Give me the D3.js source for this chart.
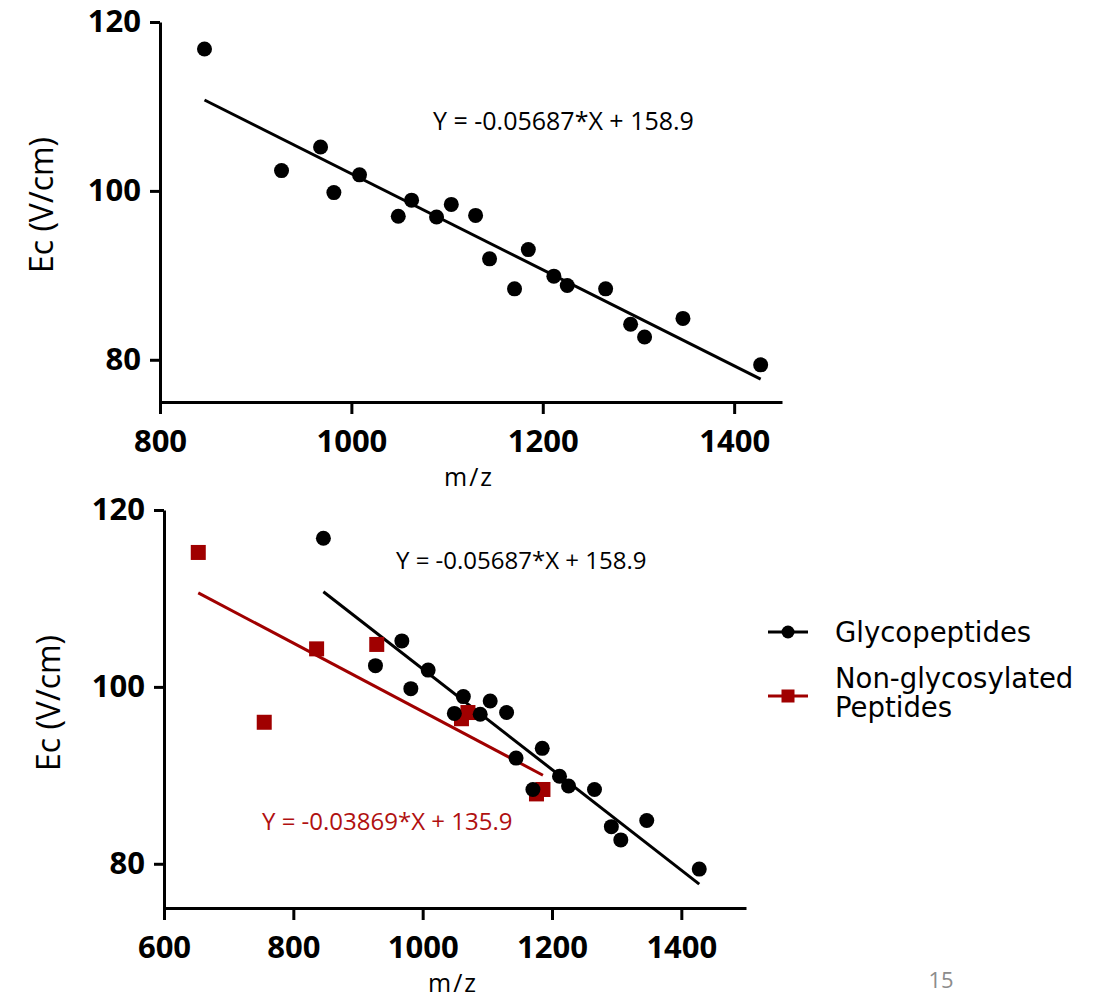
<!DOCTYPE html>
<html>
<head>
<meta charset="utf-8">
<script src="https://cdn.jsdelivr.net/npm/d3@7"></script>
<style>
  body { margin: 0; background: #fff; }
  .axis path, .axis line { stroke: #000; stroke-width: 3px; }
  .axis text { font-family: "Open Sans", sans-serif; font-weight: 700; font-size: 31px; fill: #000; }
  .lbl { font-family: "Open Sans", sans-serif; fill: #000; }
  .legend text { font-family: "DejaVu Sans", sans-serif; font-size: 27.5px; fill: #000; }
</style>
</head>
<body>
<svg id="chart" width="1099" height="1002"></svg>
<script>
// glycopeptides (m/z, Ec)
const glycoMz = [846.5, 927, 967.8, 981.7, 1008.5, 1049, 1062.9, 1089, 1104.4, 1129.8,
    1144.4, 1170.5, 1184.9, 1211.6, 1225.6, 1265.7, 1291.8, 1306.4, 1346.5, 1427.7]
const glycoEc = [116.8, 102.4, 105.2, 99.8, 101.9, 97.0, 98.9, 96.9, 98.4, 97.1,
    91.95, 88.4, 93.05, 89.9, 88.8, 88.4, 84.2, 82.7, 84.9, 79.4]

// non-glycosylated peptides
const nonGlyMz = [653, 755, 836, 929, 1060, 1070, 1176, 1186]
const nonGlyEc = [115.2, 96.0, 104.3, 104.8, 96.4, 97.1, 87.9, 88.4]

// linear fits as printed on the slide
const glycoFit = {slope: -0.05687, intercept: 158.9, label: "Y = -0.05687*X + 158.9"}
const nonGlyFit = {slope: -0.03869, intercept: 135.9, label: "Y = -0.03869*X + 135.9"}

const topXTicks = [800, 1000, 1200, 1400]
const botXTicks = [600, 800, 1000, 1200, 1400]
const yTicks = [80, 100, 120]
const legendLabels = [["Glycopeptides"], ["Non-glycosylated", "Peptides"]]

const black = "#000", red = "#a00000"

const svg = d3.select("#chart")
svg.append("rect").attr("width", 1099).attr("height", 1002).attr("fill", "#fff")

const glyco = glycoMz.map((d, i) => ({x: d, y: glycoEc[i]}))
const nonGly = nonGlyMz.map((d, i) => ({x: d, y: nonGlyEc[i]}))

function fitLine(fit, data) {
    const ext = d3.extent(data, d => d.x)
    return ext.map(x => ({x: x, y: fit.slope * x + fit.intercept}))
}

function panel(opt) {
    const fx = d3.scaleLinear().domain(opt.xDomain).range(opt.xRange)
    const fy = d3.scaleLinear().domain([75, 120]).range(opt.yRange)
    const g = svg.append("g")

    g.append("g")
        .attr("class", "axis")
        .attr("transform", "translate(0," + opt.yRange[0] + ")")
        .call(d3.axisBottom(fx).tickValues(opt.xTicks).tickFormat(d3.format("d"))
            .tickSize(12).tickSizeOuter(0).tickPadding(16))

    g.append("g")
        .attr("class", "axis")
        .attr("transform", "translate(" + opt.xRange[0] + ",0)")
        .call(d3.axisLeft(fy).tickValues(yTicks).tickSize(10).tickSizeOuter(0).tickPadding(9))

    const line = d3.line().x(d => fx(d.x)).y(d => fy(d.y))

    opt.series.forEach(s => {
        g.append("path")
            .datum(fitLine(s.fit, s.data))
            .attr("fill", "none")
            .attr("stroke", s.color)
            .attr("stroke-width", 3)
            .attr("d", line)
    })
    opt.series.forEach(s => {
        if (s.shape == "square") {
            g.selectAll(null).data(s.data).join("rect")
                .attr("x", d => fx(d.x) - 7.5)
                .attr("y", d => fy(d.y) - 7.5)
                .attr("width", 15).attr("height", 15)
                .attr("fill", s.color)
        } else {
            g.selectAll(null).data(s.data).join("circle")
                .attr("cx", d => fx(d.x))
                .attr("cy", d => fy(d.y))
                .attr("r", 7.5)
                .attr("fill", s.color)
        }
    })

    g.append("text")
        .attr("class", "lbl")
        .attr("x", (opt.xRange[0] + opt.xRange[1]) / 2 - 2)
        .attr("y", opt.mzY)
        .attr("text-anchor", "middle")
        .style("font-size", "25px")
        .style("letter-spacing", "2px")
        .text("m/z")

    g.append("text")
        .attr("class", "lbl")
        .attr("transform", "translate(" + opt.ecX + "," + opt.ecY + ") rotate(-90)")
        .attr("text-anchor", "middle")
        .style("font-size", "32px")
        .text("Ec (V/cm)")

    opt.notes.forEach(n => {
        g.append("text")
            .attr("class", "lbl")
            .attr("x", n.x).attr("y", n.y)
            .style("font-size", n.size + "px")
            .style("fill", n.color)
            .text(n.text)
    })
}

panel({
    xDomain: [800, 1450], xRange: [160, 782], yRange: [402, 22], xTicks: topXTicks,
    series: [{data: glyco, fit: glycoFit, color: black, shape: "circle"}],
    mzY: 486, ecX: 53, ecY: 205,
    notes: [{text: glycoFit.label, x: 433, y: 130, size: 25, color: black}]
})

panel({
    xDomain: [600, 1500], xRange: [164, 746], yRange: [908, 510], xTicks: botXTicks,
    series: [
        {data: nonGly, fit: nonGlyFit, color: red, shape: "square"},
        {data: glyco, fit: glycoFit, color: black, shape: "circle"}
    ],
    mzY: 992, ecX: 60, ecY: 703,
    notes: [
        {text: glycoFit.label, x: 396, y: 569, size: 24, color: black},
        {text: nonGlyFit.label, x: 262, y: 830, size: 24, color: "#b01010"}
    ]
})

// legend
const legend = svg.append("g").attr("class", "legend")
const legendRows = [
    {color: black, shape: "circle", y: 632, textY: [642]},
    {color: red, shape: "square", y: 696, textY: [688, 717]}
]
legendRows.forEach((r, i) => {
    legend.append("line")
        .attr("x1", 768).attr("x2", 808)
        .attr("y1", r.y).attr("y2", r.y)
        .attr("stroke", r.color).attr("stroke-width", 3)
    if (r.shape == "circle") {
        legend.append("circle").attr("cx", 788).attr("cy", r.y).attr("r", 6.5).attr("fill", r.color)
    } else {
        legend.append("rect").attr("x", 781.5).attr("y", r.y - 6.5)
            .attr("width", 13).attr("height", 13).attr("fill", r.color)
    }
    legendLabels[i].forEach((t, j) => {
        legend.append("text").attr("x", 835).attr("y", r.textY[j]).text(t)
    })
})

// slide number
svg.append("text")
    .attr("class", "lbl")
    .attr("x", 941).attr("y", 988)
    .attr("text-anchor", "middle")
    .style("font-size", "22px")
    .style("fill", "#8c8c8c")
    .text("15")
</script>
</body>
</html>
